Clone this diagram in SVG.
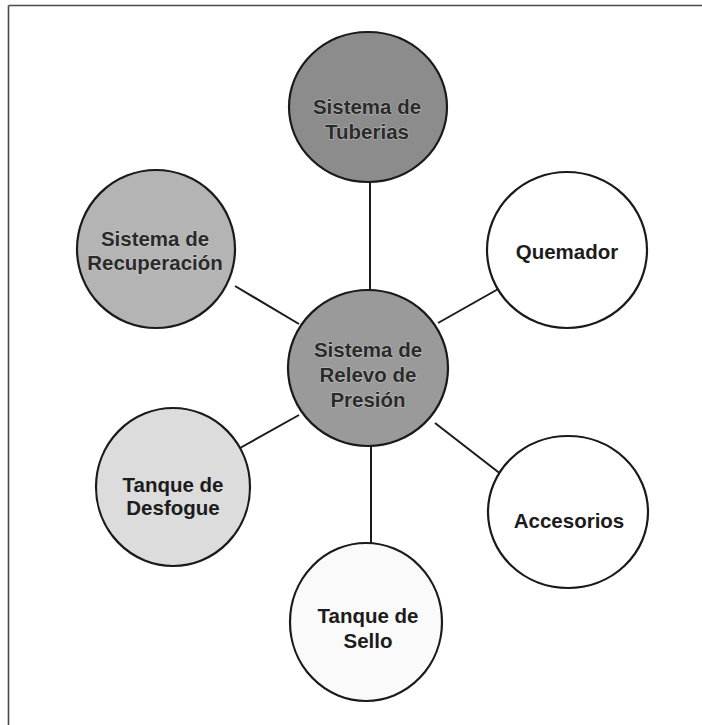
<svg xmlns="http://www.w3.org/2000/svg" width="702" height="725" viewBox="0 0 702 725">
  <style>
    .node { stroke: #1a1a1a; stroke-width: 2.2; }
    .link { stroke: #1a1a1a; stroke-width: 2; fill: none; }
    .label { font-family: "Liberation Sans", Arial, sans-serif; font-weight: bold; font-size: 20.5px; fill: #1c1c1c; text-anchor: middle; }
    .halo { fill: #2a2a2a; stroke: #d8d8d8; stroke-width: 1.2; paint-order: stroke; stroke-opacity: 0.6; }
  </style>

  <rect x="0" y="0" width="702" height="725" fill="#ffffff"/>

  <!-- frame -->
  <g id="frame" stroke="#4a4a4a" stroke-width="1.6" fill="none">
    <line x1="8.5" y1="5.5" x2="702" y2="5.5"/>
    <line x1="8.5" y1="5.5" x2="8.5" y2="725"/>
  </g>

  <!-- connectors -->
  <g id="connectors">
    <line class="link" x1="370" y1="182" x2="370" y2="290"/>
    <line class="link" x1="235" y1="286" x2="299" y2="324"/>
    <line class="link" x1="500" y1="288" x2="438" y2="323"/>
    <line class="link" x1="240" y1="448" x2="299" y2="415"/>
    <line class="link" x1="435" y1="423" x2="502" y2="475"/>
    <line class="link" x1="371" y1="446" x2="371" y2="543"/>
  </g>

  <g id="tuberias">
    <ellipse class="node" cx="368" cy="107" rx="79" ry="75" fill="#8c8c8c"/>
    <text class="label halo" x="367" y="114">Sistema de</text>
    <text class="label halo" x="367" y="139">Tuberias</text>
  </g>

  <g id="quemador">
    <ellipse class="node" cx="567" cy="250" rx="80" ry="78" fill="#ffffff"/>
    <text class="label" x="567" y="259">Quemador</text>
  </g>

  <g id="recuperacion">
    <ellipse class="node" cx="156" cy="249" rx="79" ry="79" fill="#b4b4b4"/>
    <text class="label halo" x="155" y="246">Sistema de</text>
    <text class="label halo" x="155" y="270">Recuperación</text>
  </g>

  <g id="relevo">
    <ellipse class="node" cx="368" cy="368" rx="80" ry="78" fill="#9a9a9a"/>
    <text class="label halo" x="368" y="357">Sistema de</text>
    <text class="label halo" x="368" y="382">Relevo de</text>
    <text class="label halo" x="368" y="407">Presión</text>
  </g>

  <g id="desfogue">
    <ellipse class="node" cx="173" cy="487" rx="77" ry="79" fill="#dcdcdc"/>
    <text class="label" x="173" y="492">Tanque de</text>
    <text class="label" x="173" y="515">Desfogue</text>
  </g>

  <g id="accesorios">
    <ellipse class="node" cx="568" cy="512" rx="80" ry="76" fill="#ffffff"/>
    <text class="label" x="569" y="528">Accesorios</text>
  </g>

  <g id="sello">
    <ellipse class="node" cx="366" cy="622" rx="76" ry="79" fill="#fafafa"/>
    <text class="label" x="368" y="623">Tanque de</text>
    <text class="label" x="368" y="648">Sello</text>
  </g>
</svg>
